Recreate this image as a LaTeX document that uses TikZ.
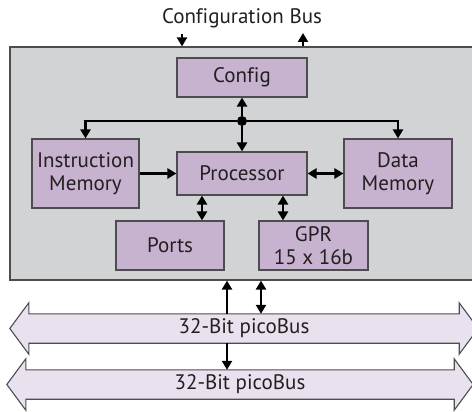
\documentclass[tikz,border=0pt]{standalone}
\usepackage{fontspec}
\setmainfont[Ligatures=NoCommon]{PT Sans}
\usetikzlibrary{arrows.meta,calc,backgrounds}
\definecolor{chipgray}{HTML}{D1D3D4}
\definecolor{blockpurple}{HTML}{C7B2CF}
\definecolor{buslav}{HTML}{E9E1EE}
\definecolor{edgegray}{HTML}{4D4D4F}
\definecolor{inktext}{HTML}{231F20}
\begin{document}
\begin{tikzpicture}[x=1pt,y=-1pt,
  txt/.style={font=\fontsize{21}{22.5}\selectfont, text=inktext},
  chipbox/.style={draw=edgegray, line width=1.2pt, fill=chipgray, inner sep=0pt},
  block/.style={draw=edgegray, line width=1.1pt, fill=blockpurple, inner sep=0pt, align=center, txt},
  busbody/.style={inner sep=0pt, minimum height=29pt, txt},
  busoutline/.style={draw=edgegray, line width=1.1pt, fill=buslav, line join=miter},
  conn/.style={line width=2.7pt, -{Triangle[length=9pt,width=10pt]}},
  biconn/.style={line width=2.7pt, {Triangle[length=9pt,width=10pt]}-{Triangle[length=9pt,width=10pt]}},
  dot/.style={circle, fill=black, inner sep=0pt, minimum size=10pt},
]
\useasboundingbox (0,0) rectangle (472,412);

% chip outline
\node[chipbox, minimum width=470pt, minimum height=233pt] (chip) at (245,163.5) {};

% title
\node[txt] (cblabel) at (242,18) {Configuration Bus};

% blocks
\node[block, minimum width=130pt, minimum height=39pt] (config) at (242,77.5) {Config};
\node[block, minimum width=130pt, minimum height=43pt] (proc) at (242,173.5) {Processor};
\node[block, minimum width=107pt, minimum height=69pt] (im) at (85.5,173.5) {Instruction\\Memory};
\node[block, minimum width=108pt, minimum height=69pt] (dm) at (398,173.5) {Data\\Memory};
\node[block, minimum width=108pt, minimum height=49pt] (ports) at (170,245.5) {Ports};
\node[block, minimum width=109pt, minimum height=49pt] (gpr) at (313.5,245.5) {GPR\\15 x 16b};

% junction
\node[dot] (jn) at (242,121) {};
\draw[conn] (jn) -- (config.south);
\draw[conn] (jn) -- (proc.north);
\draw[conn] (jn) -| (im.north);
\draw[conn] (jn) -| (dm.north);

\draw[conn] (im.east) -- (proc.west);
\draw[biconn] (proc.east) -- (dm.west);

\coordinate (pX) at (202,0);
\coordinate (gX) at (283,0);
\draw[biconn] (proc.south -| pX) -- (ports.north -| pX);
\draw[biconn] (proc.south -| gX) -- (gpr.north -| gX);

% configuration bus arrows
\coordinate (cbIn) at (182,34);
\coordinate (cbOut) at (303,33);
\draw[conn] (cbIn) -- (cbIn |- chip.north);
\draw[conn] (cbOut |- chip.north) -- (cbOut);

% buses
\node[busbody, minimum width=430pt] (bus1) at (244,328.5) {32-Bit picoBus};
\node[busbody, minimum width=428pt] (bus2) at (240,384.5) {32-Bit picoBus};
\begin{scope}[on background layer]
\foreach \b in {bus1,bus2}{
  \draw[busoutline] (\b.north west) -- (\b.north east) -- ++(0,-11)
    -- ($(\b.east)+(19,0)$) -- ($(\b.south east)+(0,11)$) -- (\b.south east)
    -- (\b.south west) -- ++(0,11) -- ($(\b.west)+(-19,0)$)
    -- ($(\b.north west)+(0,-11)$) -- cycle;
}
\end{scope}

\coordinate (aX) at (227,0);
\coordinate (bX) at (261,0);
\draw[conn] (bus1.north -| aX) -- (chip.south -| aX);
\draw[biconn] (chip.south -| bX) -- (bus1.north -| bX);
\draw[conn] (bus1.south -| aX) -- (bus2.north -| aX);
\end{tikzpicture}
\end{document}
